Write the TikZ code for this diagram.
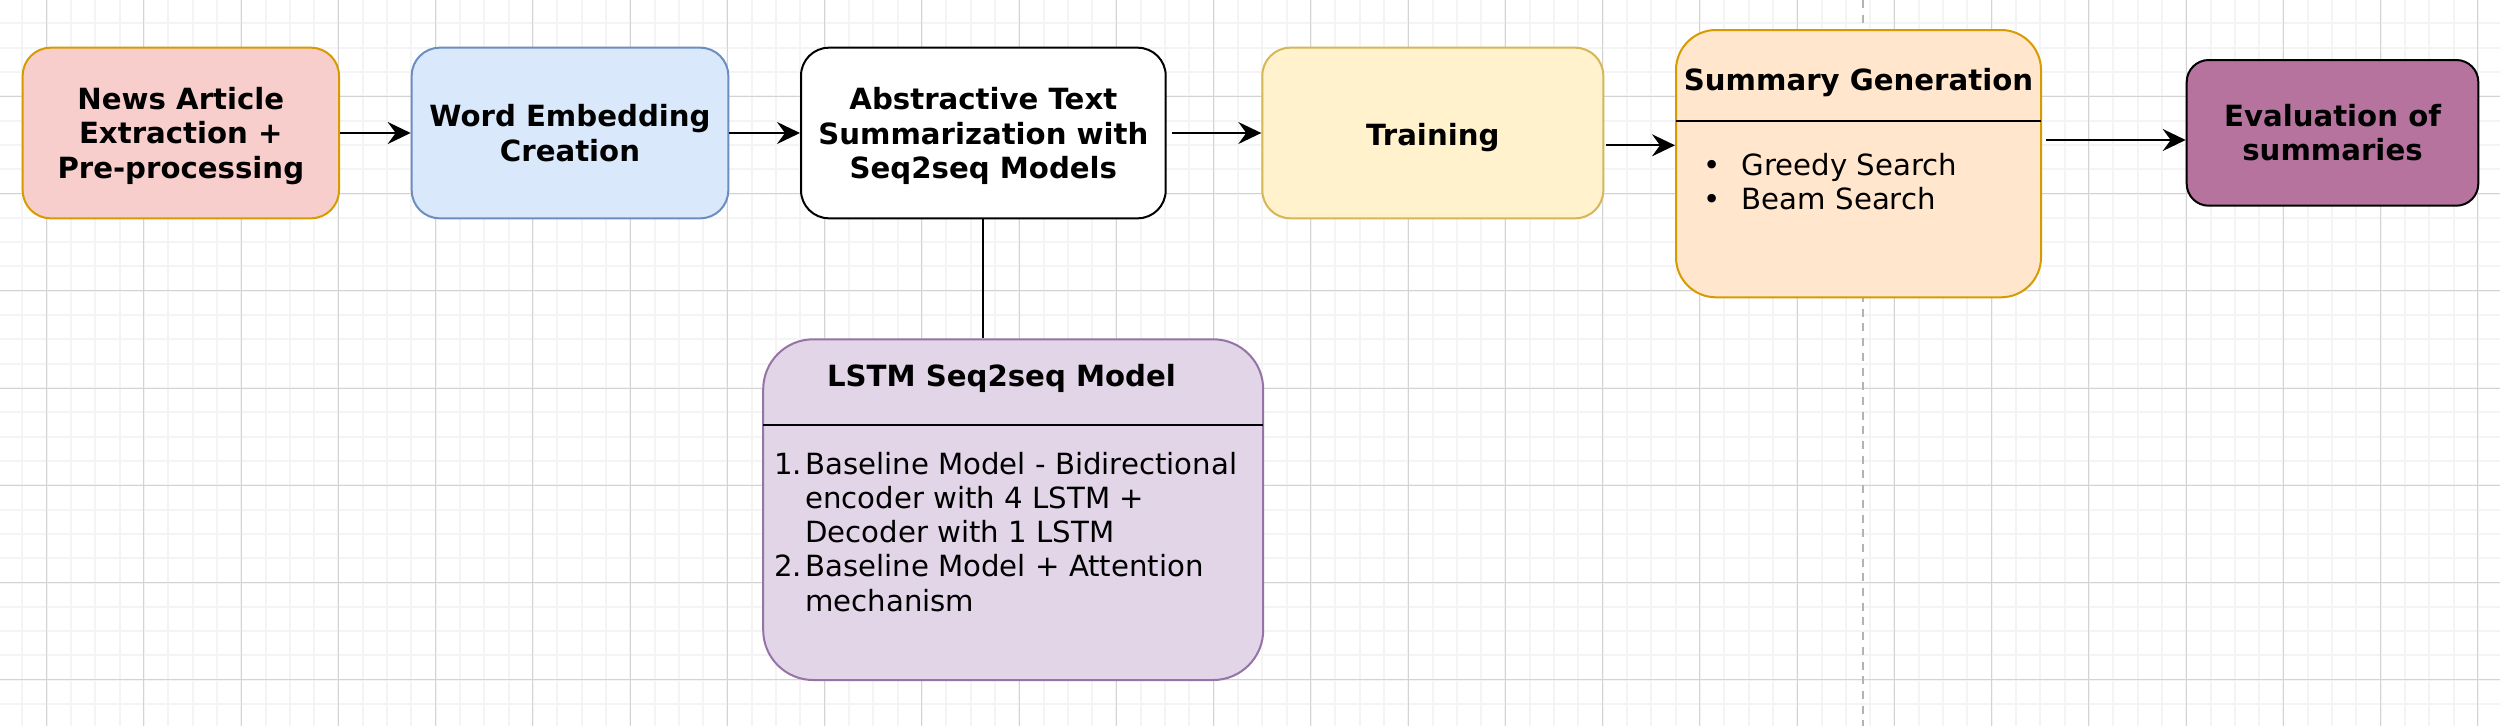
\documentclass[tikz,border=0pt]{standalone}
\usepackage{fontspec}
\setmainfont{DejaVu Sans}
\usetikzlibrary{arrows.meta}
\definecolor{pinkfill}{HTML}{F8CECC}
\definecolor{orangeline}{HTML}{D79B00}
\definecolor{bluefill}{HTML}{DAE8FC}
\definecolor{blueline}{HTML}{6C8EBF}
\definecolor{yellowfill}{HTML}{FFF2CC}
\definecolor{yellowline}{HTML}{D6B656}
\definecolor{peachfill}{HTML}{FFE6CC}
\definecolor{mauvefill}{HTML}{B5739D}
\definecolor{lilacfill}{HTML}{E1D5E7}
\definecolor{lilacline}{HTML}{9673A6}
\definecolor{gridminorc}{HTML}{F4F4F4}
\definecolor{gridmajorc}{HTML}{D3D3D3}
\definecolor{dashc}{HTML}{B3B3B3}
\tikzset{
  box/.style={draw, line width=2pt, rounded corners=28pt, inner sep=0pt, align=center,
    font=\bfseries\fontsize{29.2}{34.3}\selectfont},
  arr/.style={line width=2pt, -{Stealth[length=23pt,width=22pt,inset=8pt]}},
  gridminor/.style={line width=2pt, draw=gridminorc},
  gridmajor/.style={line width=1pt, draw=gridmajorc},
  lbl/.style={inner sep=0pt, font=\fontsize{29.2}{34.3}\selectfont},
  blbl/.style={inner sep=0pt, align=center, font=\bfseries\fontsize{29.2}{34.3}\selectfont},
  sepline/.style={line width=2pt, draw=black},
}
\begin{document}
\begin{tikzpicture}[x=1pt,y=-1pt]
\useasboundingbox (0,0) rectangle (2500,726);
\fill[white] (0,0) rectangle (2500,726);
% grid
\foreach \i in {0,...,102}{
  \pgfmathsetmacro{\gx}{round(22.4+24.3125*\i)}
  \draw[gridminor] (\gx,0) -- (\gx,726);
}
\foreach \i in {1,...,29}{
  \pgfmathsetmacro{\gy}{round(-0.95+24.3125*\i)}
  \draw[gridminor] (0,\gy) -- (2500,\gy);
}
\foreach \i in {0,...,25}{
  \pgfmathsetmacro{\gx}{floor(46.7+97.25*\i)+0.5}
  \draw[gridmajor] (\gx,0) -- (\gx,726);
}
\foreach \i in {1,...,7}{
  \pgfmathsetmacro{\gy}{floor(-0.95+97.25*\i)+0.5}
  \draw[gridmajor] (0,\gy) -- (2500,\gy);
}
% dashed guide
\coordinate (gtop) at (1863.3,0);
\coordinate (gbot) at (1863.3,726);
\draw[draw=dashc, line width=2pt, dash pattern=on 8pt off 6.7pt] (gtop) -- (gbot);

% boxes
\node[box, fill=pinkfill, draw=orangeline, minimum width=316.3pt, minimum height=170.6pt]
  (b1) at (180.85,133) {};
\node[blbl] (b1t) at ([yshift=-3pt]b1.center) {News Article\\Extraction +\\Pre-processing};
\node[box, fill=bluefill, draw=blueline, minimum width=316.6pt, minimum height=170.6pt]
  (b2) at (570,133) {Word Embedding\\Creation};
\node[box, fill=white, draw=black, minimum width=364.7pt, minimum height=170.6pt]
  (b3) at (983.35,133) {};
\node[blbl] (b3t) at ([yshift=-3pt]b3.center) {Abstractive Text\\Summarization with\\Seq2seq Models};
\node[box, fill=yellowfill, draw=yellowline, minimum width=341pt, minimum height=170.6pt]
  (b4) at (1432.8,133) {};
\node[blbl, anchor=base] (b4t) at (1432.8,145) {Training};
\node[box, fill=peachfill, draw=orangeline, rounded corners=40pt, minimum width=365pt, minimum height=267.3pt]
  (b5) at (1858.5,163.65) {};
\node[box, fill=mauvefill, draw=black, rounded corners=22pt, minimum width=291.6pt, minimum height=145.7pt]
  (b6) at (2332.5,132.85) {Evaluation of\\summaries};
\node[box, fill=lilacfill, draw=lilacline, rounded corners=50pt, minimum width=500pt, minimum height=340.7pt]
  (b7) at (1013.2,509.65) {};

% summary generation contents
\node[blbl, anchor=base] (b5t) at (1858.5,90) {Summary Generation};
\coordinate (s5a) at (1676,120.7);
\coordinate (s5b) at (2041,120.7);
\draw[sepline] (s5a) -- (s5b);
\node[lbl, anchor=base] (bu1) at (1711.7,175) {•};
\node[lbl, anchor=base west] (g1) at (1741.7,175) {Greedy Search};
\node[lbl, anchor=base] (bu2) at (1711.7,209.3) {•};
\node[lbl, anchor=base west] (g2) at (1741.7,209.3) {Beam Search};

% LSTM contents
\node[blbl, anchor=base] (b7t) at (1001.5,386.7) {LSTM Seq2seq Model};
\coordinate (s7a) at (763.2,425);
\coordinate (s7b) at (1263.2,425);
\draw[sepline] (s7a) -- (s7b);
\node[lbl, anchor=base west] (n1) at (774,474) {1.};
\node[lbl, anchor=base west] (l1) at (805,474) {Baseline Model - Bidirectional};
\node[lbl, anchor=base west] (l2) at (805,508.3) {encoder with 4 LSTM +};
\node[lbl, anchor=base west] (l3) at (805,542.3) {Decoder with 1 LSTM};
\node[lbl, anchor=base west] (n2) at (774,576.7) {2.};
\node[lbl, anchor=base west] (l4) at (805,576.7) {Baseline Model + Attention};
\node[lbl, anchor=base west] (l5) at (805,611) {mechanism};

% connectors
\draw[arr] (b1) -- (b2);
\draw[arr] (b2) -- (b3);
\draw[arr, shorten <=5pt] (b3) -- (b4);
\coordinate (a45) at (1606,145.3);
\draw[arr] (a45) -- (a45 -| b5.west);
\coordinate (a56) at (2046,140);
\draw[arr] (a56) -- (a56 -| b6.west);
\draw[line width=2pt] (b3.south) -- (b3.south |- b7.north);
\end{tikzpicture}
\end{document}
